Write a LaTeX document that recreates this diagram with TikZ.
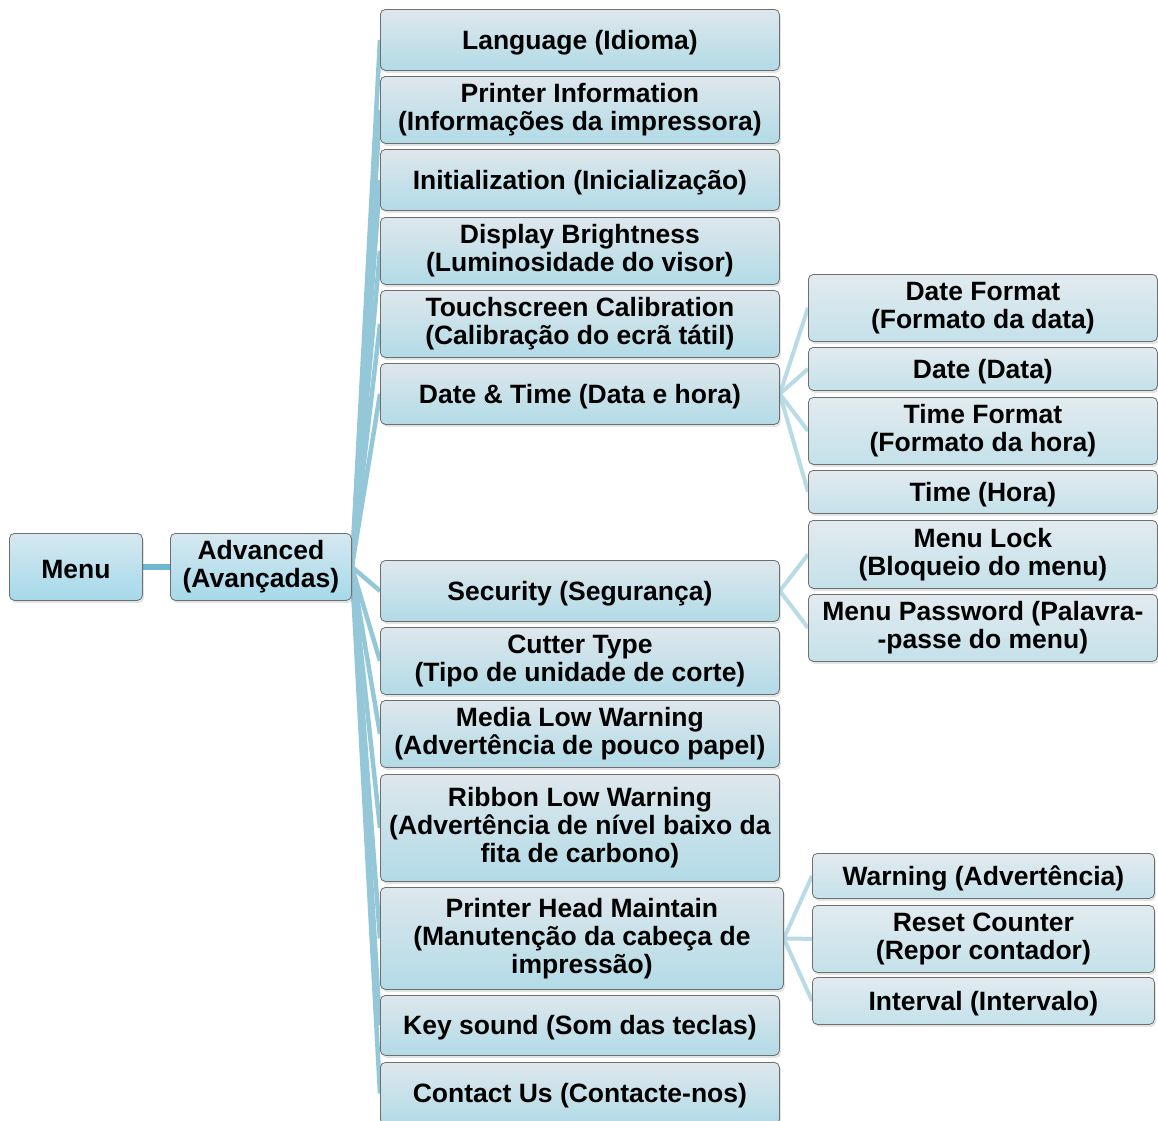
\documentclass[tikz,border=0pt]{standalone}
\usepackage{fontspec}
\setmainfont{Liberation Sans}
\usetikzlibrary{shadows,backgrounds}
\definecolor{topA}{RGB}{214,232,240}
\definecolor{botA}{RGB}{165,217,234}
\definecolor{topB}{RGB}{222,231,236}
\definecolor{botB}{RGB}{178,219,231}
\definecolor{topC}{RGB}{226,235,239}
\definecolor{botC}{RGB}{196,225,234}
\definecolor{edgeC}{RGB}{110,110,110}
\definecolor{linkA}{RGB}{111,182,207}
\definecolor{linkB}{RGB}{148,199,216}
\definecolor{linkC}{RGB}{184,219,230}
\tikzset{
  basebox/.style={draw=edgeC, line width=0.8pt, rounded corners=5pt,
    drop shadow={shadow xshift=1.5pt, shadow yshift=-2.5pt, opacity=0.22},
    font=\fontsize{26.5}{28}\selectfont\bfseries, align=center, inner sep=0pt,
    anchor=north west, text=black,
    execute at begin node={\rule{0pt}{24pt}}},
  boxA/.style={basebox, top color=topA, bottom color=botA},
  boxB/.style={basebox, top color=topB, bottom color=botB, minimum width=399pt},
  boxC/.style={basebox, top color=topC, bottom color=botC, minimum width=349pt},
  boxD/.style={basebox, top color=topC, bottom color=botC, minimum width=342pt},
  linkmain/.style={draw=linkA, line width=6pt},
  linkone/.style={draw=linkB, line width=4.5pt},
  linktwo/.style={draw=linkC, line width=4pt},
}
\begin{document}
\begin{tikzpicture}[x=1pt,y=-1pt]
\useasboundingbox (0,0) rectangle (1158,1120);
% level 0/1
\node[boxA, minimum width=133pt, minimum height=67pt] (menu) at (9,533) {Menu};
\node[boxA, minimum width=181pt, minimum height=67pt] (adv) at (170,533) {Advanced\\(Avançadas)};
% level 2
\node[boxB, minimum height=61pt] (lang) at (380,9) {Language (Idioma)};
\node[boxB, minimum height=67pt] (pinfo) at (380,76) {Printer Information\\(Informações da impressora)};
\node[boxB, minimum height=61pt] (init) at (380,149) {Initialization (Inicialização)};
\node[boxB, minimum height=67pt] (disp) at (380,217) {Display Brightness\\(Luminosidade do visor)};
\node[boxB, minimum height=67pt] (touch) at (380,290) {Touchscreen Calibration\\(Calibração do ecrã tátil)};
\node[boxB, minimum height=61pt] (dt) at (380,363) {Date \& Time (Data e hora)};
\node[boxB, minimum height=61pt] (sec) at (380,560) {Security (Segurança)};
\node[boxB, minimum height=67pt] (cut) at (380,627) {Cutter Type\\(Tipo de unidade de corte)};
\node[boxB, minimum height=67pt] (media) at (380,700) {Media Low Warning\\(Advertência de pouco papel)};
\node[boxB, minimum height=107pt] (ribbon) at (380,774) {Ribbon Low Warning\\(Advertência de nível baixo da\\fita de carbono)};
\node[boxB, minimum width=403pt, minimum height=102pt] (phm) at (380,887) {Printer Head Maintain\\(Manutenção da cabeça de\\impressão)};
\node[boxB, minimum height=60pt] (key) at (380,995) {Key sound (Som das teclas)};
\node[boxB, minimum height=62pt] (contact) at (380,1062) {Contact Us (Contacte-nos)};
% level 3
\node[boxC, minimum height=67pt] (dfmt) at (808,274) {Date Format\\(Formato da data)};
\node[boxC, minimum height=43pt] (date) at (808,347) {Date (Data)};
\node[boxC, minimum height=67pt] (tfmt) at (808,397) {Time Format\\(Formato da hora)};
\node[boxC, minimum height=43pt] (time) at (808,470) {Time (Hora)};
\node[boxC, minimum height=68pt] (mlock) at (808,520) {Menu Lock\\(Bloqueio do menu)};
\node[boxC, minimum height=67pt] (mpass) at (808,594) {Menu Password (Palavra-\\-passe do menu)};
\node[boxD, minimum height=45pt] (warn) at (812,853) {Warning (Advertência)};
\node[boxD, minimum height=67pt] (reset) at (812,905) {Reset Counter\\(Repor contador)};
\node[boxD, minimum height=47pt] (intv) at (812,977) {Interval (Intervalo)};
% connectors
\begin{scope}[on background layer]
\draw[linkmain] (menu.east) -- (adv.west);
\foreach \t in {lang,pinfo,init,disp,touch,dt,sec,cut,media,ribbon,phm,key,contact}
  \draw[linkone] (adv.east) -- (\t.west);
\foreach \t in {dfmt,date,tfmt,time}
  \draw[linktwo] (dt.east) -- (\t.west);
\foreach \t in {mlock,mpass}
  \draw[linktwo] (sec.east) -- (\t.west);
\foreach \t in {warn,reset,intv}
  \draw[linktwo] (phm.east) -- (\t.west);
\end{scope}
\end{tikzpicture}
\end{document}
